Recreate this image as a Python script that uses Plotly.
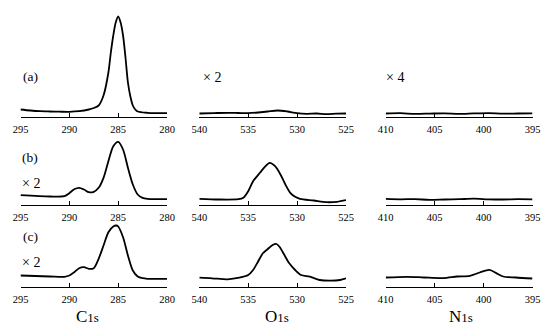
import plotly.graph_objects as go

W, H = 544, 329

# ---------------- data (binding energy in eV, intensity in arbitrary units) ----------------
c1s_a_e = [295, 294, 293, 292, 291, 290, 289, 288, 287.5, 287, 286.5, 286, 285.75, 285.5, 285.25, 285,
           284.75, 284.5, 284.25, 284, 283.75, 283.5, 283.25, 283, 282, 281, 280]
c1s_a_i = [7, 6, 5.3, 5, 4.8, 4.7, 5.3, 7, 8.5, 11, 21, 44, 64, 81, 94, 100,
           94, 81, 59, 34, 20, 11, 7, 5, 3.7, 3.4, 3.3]

o1s_a_e = [540, 538.5, 537, 536, 535, 534, 533, 532, 531, 530, 529, 528, 527, 526, 525]
o1s_a_i = [3.0, 3.4, 3.7, 3.5, 3.3, 4.0, 5.0, 6.0, 5.0, 3.3, 2.7, 3.0, 2.3, 2.8, 3.0]

n1s_a_e = [410, 408.5, 407, 405.5, 404, 402.5, 401, 399.5, 398, 396.5, 395]
n1s_a_i = [3.0, 3.3, 2.6, 2.9, 3.2, 2.6, 3.1, 3.4, 2.8, 3.0, 3.2]

c1s_b_e = [295, 292, 290.5, 290, 289.5, 289, 288.5, 288, 287.5, 287, 286.5, 286, 285.5, 285,
           284.5, 284, 283.5, 283, 282.5, 282, 280]
c1s_b_i = [9.3, 8, 8.3, 11.3, 15.3, 16.7, 15, 12.3, 12.7, 16.7, 26.7, 43.3, 58.3, 62.7,
           55, 36.7, 20, 10, 6.7, 5.7, 5.3]

o1s_b_e = [540, 538, 536, 535.5, 535, 534.5, 533.8, 533.3, 532.8, 532.25, 531.7, 531.2, 530.7,
           530.2, 529.7, 528.3, 527, 525.9, 525]
o1s_b_i = [5.7, 5, 5.3, 6.7, 13.3, 23.3, 31.7, 37.7, 41.7, 38.3, 30, 20, 11.7,
           7.7, 5.7, 4, 2.3, 2.7, 4.3]

n1s_b_e = [410, 408.5, 407, 405.5, 404, 402.5, 401, 399.5, 398, 396.5, 395]
n1s_b_i = [5.6, 5.2, 5.4, 4.6, 5.0, 5.3, 5.8, 5.2, 5.0, 5.3, 5.1]

c1s_c_e = [295, 292, 290.5, 290, 289.5, 289, 288.5, 288, 287.5, 287, 286.5, 286, 285.5, 285.2, 285,
           284.5, 284, 283.5, 283, 282.5, 282, 280]
c1s_c_i = [11, 10, 9.7, 11, 14.3, 18.3, 19.3, 17.7, 18.3, 27.7, 41, 54.3, 60, 61, 60,
           49.3, 31, 16, 10, 8.3, 7.7, 7.7]

o1s_c_e = [540, 538.7, 537.1, 535.9, 535, 534.5, 534, 533.5, 533, 532.5, 532.1, 531.8, 531.3,
           530.8, 530.2, 529.6, 528.7, 527.7, 526.6, 525.6, 525]
o1s_c_i = [8.8, 8.2, 7.2, 8.8, 11.5, 16.5, 24.8, 33.2, 37.5, 41.5, 42.5, 39.8, 31.5,
           23.2, 16.5, 11.5, 9.8, 6.5, 5.8, 6.5, 8.2]

n1s_c_e = [410, 407.8, 406.1, 404.1, 402.7, 401.4, 400.4, 399.4, 398.7, 398, 396.7, 395]
n1s_c_i = [9.0, 9.7, 9.0, 8.4, 10.0, 10.7, 14.0, 16.7, 13.4, 10.0, 9.0, 8.0]

c1s_ticks = [295, 290, 285, 280]
o1s_ticks = [540, 535, 530, 525]
n1s_ticks = [410, 405, 400, 395]

row_labels = ["(a)", "(b)", "(c)"]
scale_labels = ["× 2", "× 4", "× 2", "× 2"]
panel_names = ["C", "O", "N"]

# ---------------- layout geometry (pixels) ----------------
col_px = [(20.5, 167.0), (199.3, 346.0), (385.7, 532.5)]
row_px = [(116.5, 6.0), (204.5, 134.5), (286.5, 216.5)]  # (axis line y, top y)

def px_x(x):
    return x / W

def px_y(y):
    return 1 - y / H

series = [
    [(c1s_a_e, c1s_a_i), (o1s_a_e, o1s_a_i), (n1s_a_e, n1s_a_i)],
    [(c1s_b_e, c1s_b_i), (o1s_b_e, o1s_b_i), (n1s_b_e, n1s_b_i)],
    [(c1s_c_e, c1s_c_i), (o1s_c_e, o1s_c_i), (n1s_c_e, n1s_c_i)],
]
ticks = [c1s_ticks, o1s_ticks, n1s_ticks]

fig = go.Figure()
layout = {}
serif = "Liberation Serif, Times New Roman, serif"

k = 0
for r in range(3):
    for c in range(3):
        k += 1
        xs, ys = series[r][c]
        suffix = "" if k == 1 else str(k)
        fig.add_trace(go.Scatter(
            x=xs, y=ys, mode="lines", line=dict(color="black", width=1.8, shape="spline", smoothing=0.8),
            xaxis="x" + suffix, yaxis="y" + suffix, showlegend=False, hoverinfo="skip"))
        tv = ticks[c]
        axis_y, top_y = row_px[r]
        layout["xaxis" + suffix] = dict(
            domain=[px_x(col_px[c][0]), px_x(col_px[c][1])],
            range=[tv[0], tv[-1]], anchor="y" + suffix,
            showline=True, linecolor="black", linewidth=1,
            ticks="inside", ticklen=4, tickwidth=1, tickcolor="black",
            tickvals=tv, ticktext=[str(t) for t in tv],
            tickfont=dict(family=serif, size=10.5, color="black"),
            showgrid=False, zeroline=False, automargin=False, fixedrange=True,
            ticklabelstandoff=3,
        )
        layout["yaxis" + suffix] = dict(
            domain=[px_y(axis_y), px_y(top_y)],
            range=[0, axis_y - top_y], anchor="x" + suffix,
            visible=False, showgrid=False, zeroline=False, automargin=False, fixedrange=True,
        )

annotations = []
def add_text(txt, x, y, size=12, xanchor="center"):
    annotations.append(dict(text=txt, x=px_x(x), y=px_y(y), xref="paper", yref="paper",
                            showarrow=False, xanchor=xanchor, yanchor="middle",
                            font=dict(family=serif, size=size, color="black")))

add_text(row_labels[0], 30, 76.5, 13.5)
add_text(row_labels[1], 30, 157, 13.5)
add_text(row_labels[2], 30, 236, 13.5)
add_text(scale_labels[0], 212, 78, 14)
add_text(scale_labels[1], 395, 78, 14)
add_text(scale_labels[2], 31, 183, 14)
add_text(scale_labels[3], 31, 262, 14)

for name, cx in zip(panel_names, [87.5, 276.5, 461]):
    add_text(name + "<span style='font-size:13px'>1s</span>", cx, 316.5, 17)

layout["annotations"] = annotations
fig.update_layout(**layout)
fig.update_layout(
    width=W, height=H, template="none",
    margin=dict(l=0, r=0, t=0, b=0),
    paper_bgcolor="white", plot_bgcolor="rgba(0,0,0,0)",
    showlegend=False,
)
fig.write_html("out.html", config={"displayModeBar": False, "staticPlot": True},
               post_script="document.body.style.margin='0px';document.body.style.overflow='hidden';")
